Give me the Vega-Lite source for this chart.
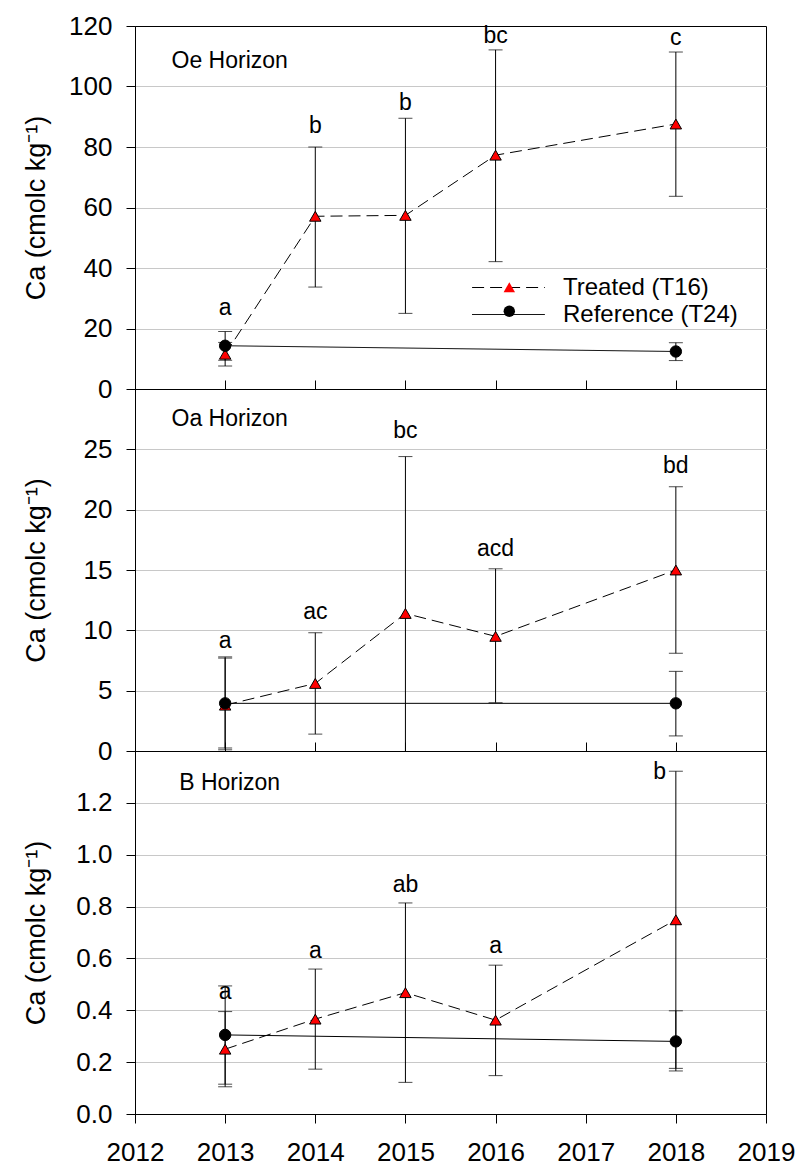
{
  "$schema": "https://vega.github.io/schema/vega-lite/v6.json",
  "padding": {"left": 21, "top": 12, "right": 0, "bottom": 0},
  "bounds": "flush",
  "config": {
    "font": "Liberation Sans",
    "view": {"stroke": "black", "strokeWidth": 1},
    "axis": {"labelFont": "Liberation Sans", "labelFontSize": 26, "labelColor": "black", "titleFont": "Liberation Sans", "titleFontSize": 27, "titleFontWeight": "normal", "titleColor": "black", "domainColor": "black", "tickColor": "black", "tickSize": 9, "gridColor": "#c8c8c8", "gridWidth": 1, "domainWidth": 1, "tickWidth": 1},
    "concat": {"spacing": 0}
  },
  "datasets": {
    "pts": [
      {"h": "Oe", "series": "Treated (T16)", "year": 2013, "mean": 11.5, "lo": 7.6, "hi": 15.4},
      {"h": "Oe", "series": "Treated (T16)", "year": 2014, "mean": 57.1, "lo": 33.7, "hi": 80.0},
      {"h": "Oe", "series": "Treated (T16)", "year": 2015, "mean": 57.4, "lo": 25.0, "hi": 89.5},
      {"h": "Oe", "series": "Treated (T16)", "year": 2016, "mean": 77.3, "lo": 42.1, "hi": 112.1},
      {"h": "Oe", "series": "Treated (T16)", "year": 2018, "mean": 87.6, "lo": 63.7, "hi": 111.4},
      {"h": "Oe", "series": "Reference (T24)", "year": 2013, "mean": 14.3, "lo": 9.5, "hi": 19.0},
      {"h": "Oe", "series": "Reference (T24)", "year": 2018, "mean": 12.4, "lo": 9.4, "hi": 15.3},
      {"h": "Oa", "series": "Treated (T16)", "year": 2013, "mean": 3.8, "lo": 0.1, "hi": 7.7},
      {"h": "Oa", "series": "Treated (T16)", "year": 2014, "mean": 5.6, "lo": 1.4, "hi": 9.8},
      {"h": "Oa", "series": "Treated (T16)", "year": 2015, "mean": 11.4, "lo": -1.6, "hi": 24.4},
      {"h": "Oa", "series": "Treated (T16)", "year": 2016, "mean": 9.5, "lo": 4.0, "hi": 15.1},
      {"h": "Oa", "series": "Treated (T16)", "year": 2018, "mean": 15.0, "lo": 8.1, "hi": 21.9},
      {"h": "Oa", "series": "Reference (T24)", "year": 2013, "mean": 3.95, "lo": 0.25, "hi": 7.8},
      {"h": "Oa", "series": "Reference (T24)", "year": 2018, "mean": 3.95, "lo": 1.25, "hi": 6.6},
      {"h": "B", "series": "Treated (T16)", "year": 2013, "mean": 0.25, "lo": 0.105, "hi": 0.395},
      {"h": "B", "series": "Treated (T16)", "year": 2014, "mean": 0.366, "lo": 0.173, "hi": 0.559},
      {"h": "B", "series": "Treated (T16)", "year": 2015, "mean": 0.468, "lo": 0.122, "hi": 0.814},
      {"h": "B", "series": "Treated (T16)", "year": 2016, "mean": 0.362, "lo": 0.148, "hi": 0.574},
      {"h": "B", "series": "Treated (T16)", "year": 2018, "mean": 0.749, "lo": 0.176, "hi": 1.322},
      {"h": "B", "series": "Reference (T24)", "year": 2013, "mean": 0.305, "lo": 0.115, "hi": 0.494},
      {"h": "B", "series": "Reference (T24)", "year": 2018, "mean": 0.28, "lo": 0.166, "hi": 0.398}
    ],
    "letters": [
      {"h": "Oe", "lx": 2013, "ly": 24.5, "label": "a"},
      {"h": "Oe", "lx": 2014, "ly": 84.5, "label": "b"},
      {"h": "Oe", "lx": 2015, "ly": 92.2, "label": "b"},
      {"h": "Oe", "lx": 2016, "ly": 114.5, "label": "bc"},
      {"h": "Oe", "lx": 2018, "ly": 113.7, "label": "c"},
      {"h": "Oa", "lx": 2013, "ly": 8.55, "label": "a"},
      {"h": "Oa", "lx": 2014, "ly": 10.95, "label": "ac"},
      {"h": "Oa", "lx": 2015, "ly": 25.95, "label": "bc"},
      {"h": "Oa", "lx": 2016, "ly": 16.17, "label": "acd"},
      {"h": "Oa", "lx": 2018, "ly": 23.06, "label": "bd"},
      {"h": "B", "lx": 2013, "ly": 0.443, "label": "a"},
      {"h": "B", "lx": 2014, "ly": 0.601, "label": "a"},
      {"h": "B", "lx": 2015, "ly": 0.856, "label": "ab"},
      {"h": "B", "lx": 2016, "ly": 0.62, "label": "a"},
      {"h": "B", "lx": 2017.82, "ly": 1.292, "label": "b"}
    ],
    "panels": [
      {"h": "Oe", "name": "Oe Horizon"},
      {"h": "Oa", "name": "Oa Horizon"},
      {"h": "B", "name": "B Horizon"}
    ]
  },
  "resolve": {"legend": {"shape": "independent", "fill": "independent", "strokeDash": "independent"}, "scale": {"y": "independent"}},
  "vconcat": [
    {
      "width": 631, "height": 363,
      "layer": [
        {"data": {"name": "pts"}, "transform": [{"filter": "datum.h === 'Oe'"}],
         "mark": {"type": "rule", "color": "black", "strokeWidth": 1, "clip": true},
         "encoding": {
           "x": {"field": "year", "type": "quantitative", "scale": {"domain": [2012, 2019], "nice": false, "zero": false},
                 "axis": {"values": [2012, 2013, 2014, 2015, 2016, 2017, 2018, 2019], "labels": false, "tickSize": -9, "title": null, "grid": false}},
           "y": {"field": "lo", "type": "quantitative", "scale": {"domain": [0, 120], "nice": false},
                 "axis": {"values": [0, 20, 40, 60, 80, 100, 120], "title": "Ca (cmolc kg⁻¹)", "titleX": -91, "titleBaseline": "alphabetic", "labelPadding": 14, "grid": true, "gridOpacity": {"condition": {"test": "datum.value === 0 || datum.value === 120", "value": 0}, "value": 1}}},
           "y2": {"field": "hi"}
         }},
        {"data": {"name": "pts"}, "transform": [{"filter": "datum.h === 'Oe'"}],
         "mark": {"type": "tick", "orient": "horizontal", "size": 14, "thickness": 1, "color": "black", "clip": true},
         "encoding": {"x": {"field": "year", "type": "quantitative"},
                      "y": {"field": "lo", "type": "quantitative"}}},
        {"data": {"name": "pts"}, "transform": [{"filter": "datum.h === 'Oe'"}],
         "mark": {"type": "tick", "orient": "horizontal", "size": 14, "thickness": 1, "color": "black", "clip": true},
         "encoding": {"x": {"field": "year", "type": "quantitative"},
                      "y": {"field": "hi", "type": "quantitative"}}},
        {"data": {"name": "pts"}, "transform": [{"filter": "datum.h === 'Oe'"}],
         "mark": {"type": "line", "color": "black", "strokeWidth": 1},
         "encoding": {"x": {"field": "year", "type": "quantitative"},
                      "y": {"field": "mean", "type": "quantitative"},
                      "strokeDash": {"field": "series", "type": "nominal", "sort": "descending", "scale": {"range": [[12, 6], [1, 0]]},
                                     "legend": {"orient": "none", "legendX": 359, "legendY": 247, "title": null, "symbolType": "M-2.6,0H2.6", "symbolSize": 784, "symbolStrokeColor": "black", "symbolStrokeWidth": 1, "labelFont": "Liberation Sans", "labelFontSize": 24, "labelColor": "black", "labelOffset": 40, "rowPadding": -3, "padding": 0, "labelLimit": 400}}}},
        {"data": {"name": "pts"}, "transform": [{"filter": "datum.h === 'Oe'"}],
         "mark": {"type": "point", "filled": true, "stroke": "black", "strokeWidth": 1, "size": 130, "opacity": 1},
         "encoding": {"x": {"field": "year", "type": "quantitative"},
                      "y": {"field": "mean", "type": "quantitative"},
                      "shape": {"field": "series", "type": "nominal", "scale": {"domain": ["Treated (T16)", "Reference (T24)"], "range": ["triangle-up", "circle"]},
                                "legend": {"orient": "none", "legendX": 362.3, "legendY": 249.3, "title": null, "symbolSize": 130, "symbolStrokeColor": "black", "symbolStrokeWidth": 1, "labelExpr": "''", "labelFontSize": 24, "rowPadding": 0, "padding": 0}},
                      "fill": {"field": "series", "type": "nominal", "scale": {"domain": ["Treated (T16)", "Reference (T24)"], "range": ["#ff0000", "#000000"]}}}},
        {"data": {"name": "letters"}, "transform": [{"filter": "datum.h === 'Oe'"}],
         "mark": {"type": "text", "fontSize": 23, "baseline": "alphabetic", "align": "center", "color": "black", "font": "Liberation Sans"},
         "encoding": {"x": {"field": "lx", "type": "quantitative"},
                      "y": {"field": "ly", "type": "quantitative"},
                      "text": {"field": "label"}}},
        {"data": {"name": "panels"}, "transform": [{"filter": "datum.h === 'Oe'"}],
         "mark": {"type": "text", "fontSize": 23, "baseline": "alphabetic", "align": "center", "color": "black", "font": "Liberation Sans"},
         "encoding": {"x": {"datum": 2013.05, "type": "quantitative"},
                      "y": {"datum": 106.1, "type": "quantitative"},
                      "text": {"field": "name"}}}
      ]
    },
    {
      "width": 631, "height": 362,
      "layer": [
        {"data": {"name": "pts"}, "transform": [{"filter": "datum.h === 'Oa'"}],
         "mark": {"type": "rule", "color": "black", "strokeWidth": 1, "clip": true},
         "encoding": {
           "x": {"field": "year", "type": "quantitative", "scale": {"domain": [2012, 2019], "nice": false, "zero": false},
                 "axis": {"values": [2012, 2013, 2014, 2015, 2016, 2017, 2018, 2019], "labels": false, "tickSize": -9, "title": null, "grid": false}},
           "y": {"field": "lo", "type": "quantitative", "scale": {"domain": [0, 30], "nice": false},
                 "axis": {"values": [0, 5, 10, 15, 20, 25], "title": "Ca (cmolc kg⁻¹)", "titleX": -91, "titleBaseline": "alphabetic", "labelPadding": 14, "grid": true, "gridOpacity": {"condition": {"test": "datum.value === 0", "value": 0}, "value": 1}}},
           "y2": {"field": "hi"}
         }},
        {"data": {"name": "pts"}, "transform": [{"filter": "datum.h === 'Oa'"}],
         "mark": {"type": "tick", "orient": "horizontal", "size": 14, "thickness": 1, "color": "black", "clip": true},
         "encoding": {"x": {"field": "year", "type": "quantitative"},
                      "y": {"field": "lo", "type": "quantitative"}}},
        {"data": {"name": "pts"}, "transform": [{"filter": "datum.h === 'Oa'"}],
         "mark": {"type": "tick", "orient": "horizontal", "size": 14, "thickness": 1, "color": "black", "clip": true},
         "encoding": {"x": {"field": "year", "type": "quantitative"},
                      "y": {"field": "hi", "type": "quantitative"}}},
        {"data": {"name": "pts"}, "transform": [{"filter": "datum.h === 'Oa' && datum.series === 'Treated (T16)'"}],
         "mark": {"type": "line", "color": "black", "strokeWidth": 1, "strokeDash": [12, 6]},
         "encoding": {"x": {"field": "year", "type": "quantitative"},
                      "y": {"field": "mean", "type": "quantitative"}}},
        {"data": {"name": "pts"}, "transform": [{"filter": "datum.h === 'Oa' && datum.series === 'Reference (T24)'"}],
         "mark": {"type": "line", "color": "black", "strokeWidth": 1},
         "encoding": {"x": {"field": "year", "type": "quantitative"},
                      "y": {"field": "mean", "type": "quantitative"}}},
        {"data": {"name": "pts"}, "transform": [{"filter": "datum.h === 'Oa'"}],
         "mark": {"type": "point", "filled": true, "stroke": "black", "strokeWidth": 1, "size": 130, "opacity": 1},
         "encoding": {"x": {"field": "year", "type": "quantitative"},
                      "y": {"field": "mean", "type": "quantitative"},
                      "shape": {"field": "series", "type": "nominal", "scale": {"domain": ["Treated (T16)", "Reference (T24)"], "range": ["triangle-up", "circle"]}, "legend": null},
                      "fill": {"field": "series", "type": "nominal", "scale": {"domain": ["Treated (T16)", "Reference (T24)"], "range": ["#ff0000", "#000000"]}, "legend": null}}},
        {"data": {"name": "letters"}, "transform": [{"filter": "datum.h === 'Oa'"}],
         "mark": {"type": "text", "fontSize": 23, "baseline": "alphabetic", "align": "center", "color": "black", "font": "Liberation Sans"},
         "encoding": {"x": {"field": "lx", "type": "quantitative"},
                      "y": {"field": "ly", "type": "quantitative"},
                      "text": {"field": "label"}}},
        {"data": {"name": "panels"}, "transform": [{"filter": "datum.h === 'Oa'"}],
         "mark": {"type": "text", "fontSize": 23, "baseline": "alphabetic", "align": "center", "color": "black", "font": "Liberation Sans"},
         "encoding": {"x": {"datum": 2013.05, "type": "quantitative"},
                      "y": {"datum": 26.9, "type": "quantitative"},
                      "text": {"field": "name"}}}
      ]
    },
    {
      "width": 631, "height": 363,
      "layer": [
        {"data": {"name": "pts"}, "transform": [{"filter": "datum.h === 'B'"}],
         "mark": {"type": "rule", "color": "black", "strokeWidth": 1, "clip": true},
         "encoding": {
           "x": {"field": "year", "type": "quantitative", "scale": {"domain": [2012, 2019], "nice": false, "zero": false},
                 "axis": {"values": [2012, 2013, 2014, 2015, 2016, 2017, 2018, 2019], "format": "d", "labelFlush": false, "labelOverlap": false, "labelPadding": 16, "tickSize": 9, "title": null, "grid": false}},
           "y": {"field": "lo", "type": "quantitative", "scale": {"domain": [0, 1.4], "nice": false},
                 "axis": {"values": [0, 0.2, 0.4, 0.6, 0.8, 1.0, 1.2], "format": ".1f", "title": "Ca (cmolc kg⁻¹)", "titleX": -91, "titleBaseline": "alphabetic", "labelPadding": 14, "grid": true, "gridOpacity": {"condition": {"test": "datum.value === 0", "value": 0}, "value": 1}}},
           "y2": {"field": "hi"}
         }},
        {"data": {"name": "pts"}, "transform": [{"filter": "datum.h === 'B'"}],
         "mark": {"type": "tick", "orient": "horizontal", "size": 14, "thickness": 1, "color": "black", "clip": true},
         "encoding": {"x": {"field": "year", "type": "quantitative"},
                      "y": {"field": "lo", "type": "quantitative"}}},
        {"data": {"name": "pts"}, "transform": [{"filter": "datum.h === 'B'"}],
         "mark": {"type": "tick", "orient": "horizontal", "size": 14, "thickness": 1, "color": "black", "clip": true},
         "encoding": {"x": {"field": "year", "type": "quantitative"},
                      "y": {"field": "hi", "type": "quantitative"}}},
        {"data": {"name": "pts"}, "transform": [{"filter": "datum.h === 'B' && datum.series === 'Treated (T16)'"}],
         "mark": {"type": "line", "color": "black", "strokeWidth": 1, "strokeDash": [12, 6]},
         "encoding": {"x": {"field": "year", "type": "quantitative"},
                      "y": {"field": "mean", "type": "quantitative"}}},
        {"data": {"name": "pts"}, "transform": [{"filter": "datum.h === 'B' && datum.series === 'Reference (T24)'"}],
         "mark": {"type": "line", "color": "black", "strokeWidth": 1},
         "encoding": {"x": {"field": "year", "type": "quantitative"},
                      "y": {"field": "mean", "type": "quantitative"}}},
        {"data": {"name": "pts"}, "transform": [{"filter": "datum.h === 'B'"}],
         "mark": {"type": "point", "filled": true, "stroke": "black", "strokeWidth": 1, "size": 130, "opacity": 1},
         "encoding": {"x": {"field": "year", "type": "quantitative"},
                      "y": {"field": "mean", "type": "quantitative"},
                      "shape": {"field": "series", "type": "nominal", "scale": {"domain": ["Treated (T16)", "Reference (T24)"], "range": ["triangle-up", "circle"]}, "legend": null},
                      "fill": {"field": "series", "type": "nominal", "scale": {"domain": ["Treated (T16)", "Reference (T24)"], "range": ["#ff0000", "#000000"]}, "legend": null}}},
        {"data": {"name": "letters"}, "transform": [{"filter": "datum.h === 'B'"}],
         "mark": {"type": "text", "fontSize": 23, "baseline": "alphabetic", "align": "center", "color": "black", "font": "Liberation Sans"},
         "encoding": {"x": {"field": "lx", "type": "quantitative"},
                      "y": {"field": "ly", "type": "quantitative"},
                      "text": {"field": "label"}}},
        {"data": {"name": "panels"}, "transform": [{"filter": "datum.h === 'B'"}],
         "mark": {"type": "text", "fontSize": 23, "baseline": "alphabetic", "align": "center", "color": "black", "font": "Liberation Sans"},
         "encoding": {"x": {"datum": 2013.05, "type": "quantitative"},
                      "y": {"datum": 1.251, "type": "quantitative"},
                      "text": {"field": "name"}}}
      ]
    }
  ]
}
